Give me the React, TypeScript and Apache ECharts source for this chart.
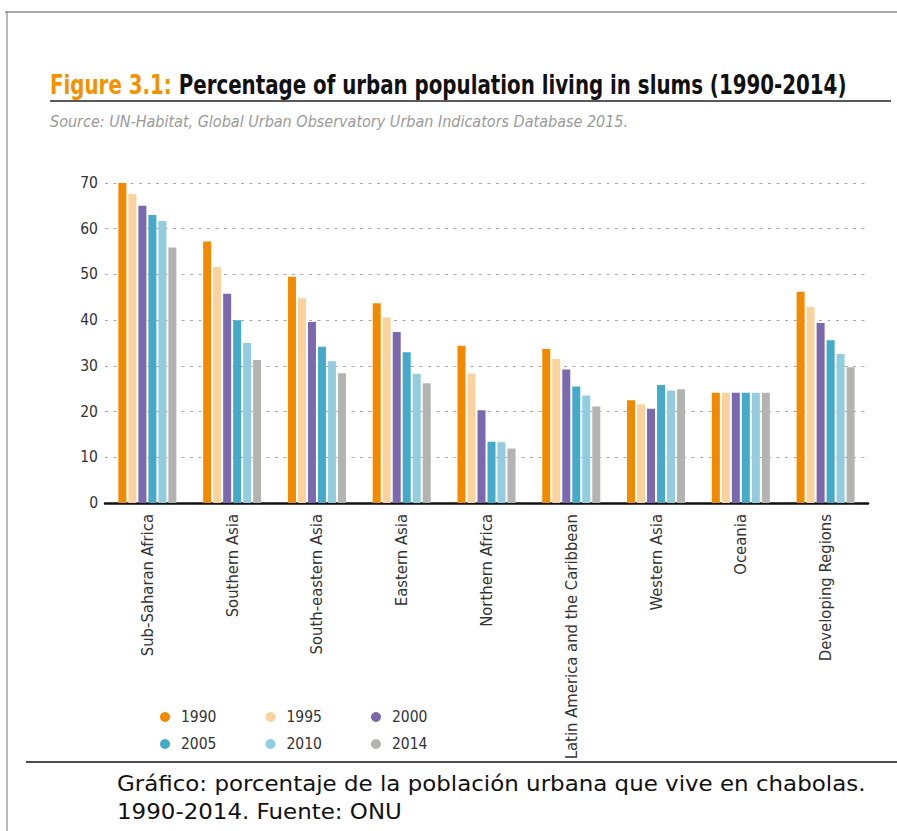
import React, { useEffect, useRef } from "react";
import * as echarts from "echarts";

const categories = [
  "Sub-Saharan Africa",
  "Southern Asia",
  "South-eastern Asia",
  "Eastern Asia",
  "Northern Africa",
  "Latin America and the Caribbean",
  "Western Asia",
  "Oceania",
  "Developing Regions",
];

const years = ["1990", "1995", "2000", "2005", "2010", "2014"];

const values1990 = [70.0, 57.2, 49.5, 43.7, 34.4, 33.7, 22.5, 24.1, 46.2];
const values1995 = [67.6, 51.6, 44.8, 40.6, 28.3, 31.5, 21.6, 24.1, 42.9];
const values2000 = [65.0, 45.8, 39.6, 37.4, 20.3, 29.2, 20.6, 24.1, 39.4];
const values2005 = [63.0, 40.0, 34.2, 33.0, 13.4, 25.5, 25.8, 24.1, 35.6];
const values2010 = [61.7, 35.0, 31.0, 28.2, 13.3, 23.5, 24.6, 24.1, 32.6];
const values2014 = [55.9, 31.3, 28.4, 26.2, 11.9, 21.1, 24.9, 24.1, 29.7];

const seriesValues = [values1990, values1995, values2000, values2005, values2010, values2014];
const colors = ["#F18A00", "#F9D29D", "#7B68AE", "#45A9C9", "#93CCDF", "#B3B4B1"];

const yTicks = [0, 10, 20, 30, 40, 50, 60, 70];

const titleLead = "Figure 3.1:";
const titleMain = "Percentage of urban population living in slums (1990-2014)";
const sourceText = "Source: UN-Habitat, Global Urban Observatory Urban Indicators Database 2015.";
const captionLines = [
  "Gráfico: porcentaje de la población urbana que vive en chabolas.",
  "1990-2014. Fuente: ONU",
];

const condensed = '"DejaVu Sans Condensed", "DejaVu Sans", sans-serif';
const captionFont = '"DejaVu Sans", "Noto Sans", sans-serif';

function measure(text: string, font: string): number {
  const c = document.createElement("canvas");
  const ctx = c.getContext("2d");
  if (!ctx) return 0;
  ctx.font = font;
  return ctx.measureText(text).width;
}

export default function App() {
  const ref = useRef<HTMLDivElement>(null);

  useEffect(() => {
    if (!ref.current) return;
    const chart = echarts.init(ref.current, undefined, { renderer: "svg" });

    const titleSize = 27;
    const titleW = measure(titleLead + " " + titleMain, `bold ${titleSize}px ${condensed}`);
    const titleScale = titleW > 0 ? 797 / titleW : 0.85;

    const capSize = 21;
    const capW = measure(captionLines[0], `${capSize}px ${captionFont}`);
    const capScale = capW > 0 ? 749 / capW : 1;

    const legendText = {
      color: "#333",
      fontSize: 15.5,
      fontFamily: condensed,
      padding: [0, 0, 0, 6],
    };

    chart.setOption({
      animation: false,
      backgroundColor: "#ffffff",
      grid: { left: 105, right: 29, top: 183, height: 320, containLabel: false },
      xAxis: {
        type: "category",
        data: categories,
        axisLine: { show: true, lineStyle: { color: "#111", width: 2.5 } },
        axisTick: { show: false },
        axisLabel: {
          rotate: 90,
          interval: 0,
          margin: 11,
          color: "#333",
          fontSize: 16.5,
          fontFamily: condensed,
        },
      },
      yAxis: {
        type: "value",
        min: yTicks[0],
        max: yTicks[yTicks.length - 1],
        interval: 10,
        axisLine: { show: false },
        axisTick: { show: false },
        axisLabel: { color: "#333", fontSize: 15.5, fontFamily: condensed, margin: 7 },
        splitLine: { show: true, lineStyle: { color: "#aaa", type: [3, 5.5], width: 1 } },
      },
      legend: [
        {
          data: years.slice(0, 3),
          left: 155,
          top: 704,
          icon: "circle",
          itemWidth: 10,
          itemHeight: 10,
          itemGap: 49,
          textStyle: legendText,
        },
        {
          data: years.slice(3, 6),
          left: 155,
          top: 731,
          icon: "circle",
          itemWidth: 10,
          itemHeight: 10,
          itemGap: 49,
          textStyle: legendText,
        },
      ],
      series: years.map((y, i) => ({
        name: y,
        type: "bar",
        data: seriesValues[i],
        barWidth: 8,
        barGap: "25%",
        itemStyle: { color: colors[i] },
      })),
      graphic: [
        { type: "line", shape: { x1: 5, y1: 12, x2: 897, y2: 12 }, style: { stroke: "#555", lineWidth: 1 } },
        { type: "line", shape: { x1: 7, y1: 12, x2: 7, y2: 831 }, style: { stroke: "#777", lineWidth: 1 } },
        {
          type: "text",
          x: 50,
          y: 85,
          scaleX: titleScale,
          style: {
            text: `{a|${titleLead}}{b| ${titleMain}}`,
            verticalAlign: "middle",
            rich: {
              a: { fill: "#F39200", fontSize: titleSize, fontWeight: "bold", fontFamily: condensed },
              b: { fill: "#111", fontSize: titleSize, fontWeight: "bold", fontFamily: condensed },
            },
          },
        },
        { type: "line", shape: { x1: 50, y1: 101, x2: 891, y2: 101 }, style: { stroke: "#222", lineWidth: 1.5 } },
        {
          type: "text",
          left: 50,
          top: 113,
          style: {
            text: sourceText,
            fill: "#9a9a9a",
            fontSize: 16,
            fontStyle: "italic",
            fontFamily: condensed,
          },
        },
        { type: "line", shape: { x1: 26, y1: 762, x2: 897, y2: 762 }, style: { stroke: "#111", lineWidth: 1.5 } },
        {
          type: "text",
          x: 117,
          y: 770,
          scaleX: capScale,
          style: {
            text: captionLines.join("\n"),
            fill: "#111",
            fontSize: capSize,
            lineHeight: 28,
            fontFamily: captionFont,
          },
        },
      ],
    });
    return () => chart.dispose();
  }, []);

  return (
    <div
      ref={ref}
      style={{ position: "absolute", left: 0, top: 0, width: 897, height: 831 }}
    />
  );
}
